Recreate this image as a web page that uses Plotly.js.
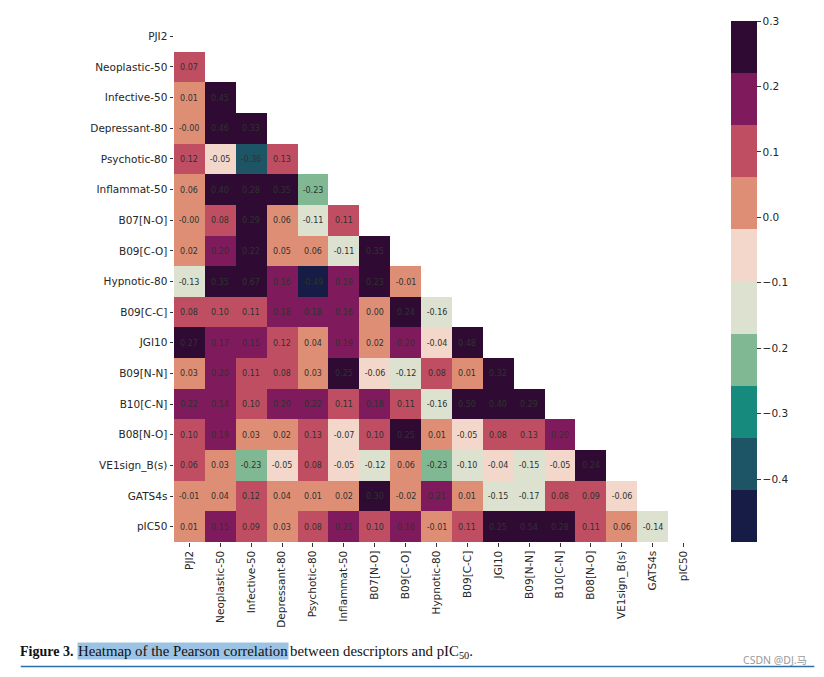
<!DOCTYPE html>
<html>
<head>
<meta charset="utf-8">
<script src="https://cdn.plot.ly/plotly-3.0.1.min.js"></script>
<style>html,body{margin:0;padding:0;background:#fff;}#chart{width:824px;height:677px;}</style>
</head>
<body>
<div id="chart"></div>
<script>
// Descriptor labels (rows top->bottom, columns left->right)
const labels = ["PJI2","Neoplastic-50","Infective-50","Depressant-80","Psychotic-80","Inflammat-50",
  "B07[N-O]","B09[C-O]","Hypnotic-80","B09[C-C]","JGI10","B09[N-N]","B10[C-N]","B08[N-O]",
  "VE1sign_B(s)","GATS4s","pIC50"];

// Lower-triangle Pearson correlations, one array per row (columns before the diagonal)
const rowNeoplastic50 = [0.07];
const rowInfective50  = [0.01, 0.45];
const rowDepressant80 = [-0.003, 0.46, 0.33];
const rowPsychotic80  = [0.12, -0.05, -0.36, 0.13];
const rowInflammat50  = [0.06, 0.40, 0.28, 0.35, -0.23];
const rowB07NO        = [-0.004, 0.08, 0.29, 0.06, -0.11, 0.11];
const rowB09CO        = [0.02, 0.20, 0.222, 0.05, 0.06, -0.11, 0.35];
const rowHypnotic80   = [-0.13, 0.35, 0.67, 0.16, -0.49, 0.19, 0.23, -0.01];
const rowB09CC        = [0.08, 0.10, 0.11, 0.18, 0.18, 0.16, 0.00, 0.24, -0.16];
const rowJGI10        = [0.27, 0.17, 0.15, 0.12, 0.04, 0.19, 0.02, 0.20, -0.04, 0.48];
const rowB09NN        = [0.03, 0.20, 0.11, 0.08, 0.03, 0.25, -0.06, -0.12, 0.08, 0.01, 0.32];
const rowB10CN        = [0.218, 0.142, 0.10, 0.20, 0.218, 0.11, 0.18, 0.11, -0.16, 0.50, 0.40, 0.29];
const rowB08NO        = [0.10, 0.19, 0.03, 0.02, 0.13, -0.07, 0.10, 0.25, 0.01, -0.05, 0.08, 0.13, 0.20];
const rowVE1sign      = [0.064, 0.03, -0.23, -0.05, 0.08, -0.05, -0.12, 0.06, -0.23, -0.10, -0.04, -0.15, -0.05, 0.24];
const rowGATS4s       = [-0.01, 0.04, 0.12, 0.04, 0.01, 0.02, 0.30, -0.017, 0.21, 0.01, -0.15, -0.17, 0.08, 0.09, -0.06];
const rowPIC50        = [0.01, 0.15, 0.09, 0.03, 0.08, 0.21, 0.10, 0.16, -0.01, 0.11, 0.25, 0.54, 0.28, 0.11, 0.06, -0.14];

// Colorbar tick values
const cbTicks = [0.3, 0.2, 0.1, 0.0, -0.1, -0.2, -0.3, -0.4];
const zMin = -0.496, zMax = 0.30;

const rows = [[], rowNeoplastic50, rowInfective50, rowDepressant80, rowPsychotic80, rowInflammat50,
  rowB07NO, rowB09CO, rowHypnotic80, rowB09CC, rowJGI10, rowB09NN, rowB10CN, rowB08NO,
  rowVE1sign, rowGATS4s, rowPIC50];
const n = labels.length;
const z = rows.map(r => { const out = []; for (let j = 0; j < n; j++) out.push(j < r.length ? r[j] : null); return out; });
const txt = z.map(r => r.map(v => v === null ? "" : v.toFixed(2)));

const colors = ["#161c45","#1e5566","#178a7e","#80b894","#dde1cf","#f3d7cb","#df8e76","#c04e63","#7f1b5d","#2f0b33"];
const colorscale = [];
colors.forEach((c, i) => { colorscale.push([i / colors.length, c]); colorscale.push([(i + 1) / colors.length, c]); });

// pixel -> paper helpers for decorations
const L = 173.5, R = 699.5, T = 20.6, B = 542.4;
const px = v => (v - L) / (R - L);
const py = v => (B - v) / (B - T);

const trace = {
  type: "heatmap",
  x: labels, y: labels, z: z,
  text: txt, texttemplate: "%{text}",
  textfont: {family: "DejaVu Sans", size: 8, color: "#2e332e"},
  zmin: zMin, zmax: zMax, colorscale: colorscale,
  hoverongaps: false,
  colorbar: {
    x: px(731.5), xanchor: "left", xpad: 0, y: 0.5, yanchor: "middle", ypad: 0, len: 1, lenmode: "fraction",
    thickness: 26, thicknessmode: "pixels", outlinewidth: 0,
    tickvals: cbTicks, ticktext: cbTicks.map(v => (v < 0 ? "\u2212" : "") + Math.abs(v).toFixed(1)),
    ticks: "outside", ticklen: 4, tickcolor: "#333", tickwidth: 1,
    tickfont: {family: "DejaVu Sans", size: 10.5, color: "#262626"}
  }
};

const capFont1 = {family: "Liberation Serif", size: 14, color: "#111"};
const capFont2 = {family: "Liberation Serif", size: 14.8, color: "#111"};

const layout = {
  width: 824, height: 677,
  margin: {l: L, r: 824 - R, t: T, b: 677 - B, pad: 0},
  paper_bgcolor: "#fff", plot_bgcolor: "#fff",
  font: {family: "DejaVu Sans", size: 10.5, color: "#262626"},
  xaxis: {type: "category", tickangle: -90, ticks: "outside", ticklen: 3.5, tickcolor: "#333",
    showgrid: false, zeroline: false, showline: false, tickfont: {size: 10.5}},
  yaxis: {type: "category", autorange: "reversed", ticks: "outside", ticklen: 3.5, tickcolor: "#333",
    showgrid: false, zeroline: false, showline: false, tickfont: {size: 10.5}},
  shapes: [
    {type: "line", xref: "paper", yref: "paper", x0: px(20), x1: px(815), y0: py(667), y1: py(667),
      line: {color: "#2a6fad", width: 1.5}}
  ],
  annotations: [
    {xref: "paper", yref: "paper", x: px(17), y: py(643), xanchor: "left", yanchor: "top", showarrow: false,
      text: "<b>Figure 3.</b>", font: capFont1, borderpad: 1},
    {xref: "paper", yref: "paper", x: px(76), y: py(642.5), xanchor: "left", yanchor: "top", showarrow: false,
      text: "Heatmap of the Pearson correlation", font: capFont2, bgcolor: "#9dc3e4", borderpad: 0},
    {xref: "paper", yref: "paper", x: px(289), y: py(642.5), xanchor: "left", yanchor: "top", showarrow: false,
      text: "between descriptors and pIC<sub>50</sub>.", font: capFont2, borderpad: 0},
    {xref: "paper", yref: "paper", x: px(810), y: py(661), xanchor: "right", yanchor: "middle", showarrow: false,
      text: "CSDN @DJ.马", font: {family: "Noto Sans, Noto Sans CJK SC", size: 10.5, color: "#9a9a9a"}}
  ]
};

Plotly.newPlot("chart", [trace], layout, {displayModeBar: false, staticPlot: true});
</script>
</body>
</html>
